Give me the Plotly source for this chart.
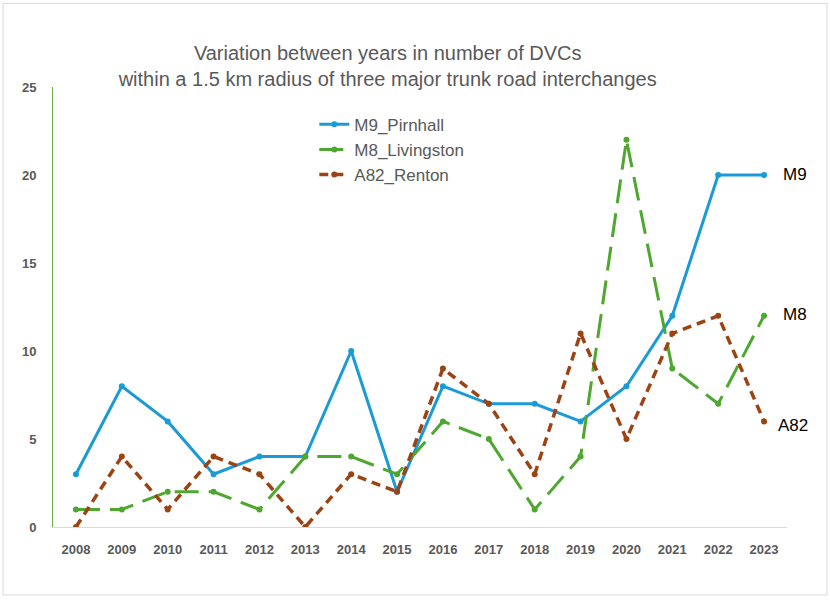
import plotly.graph_objects as go

years = [str(y) for y in range(2008, 2024)]
m9_pirnhall = [3, 8, 6, 3, 4, 4, 10, 2, 8, 7, 7, 6, 8, 12, 20, 20]
m8_livingston = [1, 1, 2, 2, 1, 4, 4, 3, 6, 5, 1, 4, 22, 9, 7, 12]
a82_renton = [0, 4, 1, 4, 3, 0, 3, 2, 9, 7, 3, 11, 5, 11, 12, 6]
end_labels = ["M9", "M8", "A82"]

fig = go.Figure()
fig.add_trace(go.Scatter(x=years, y=m9_pirnhall, name="M9_Pirnhall", mode="lines+markers",
                         line=dict(color="#1A9BD7", width=3), marker=dict(size=6, color="#1A9BD7")))
fig.add_trace(go.Scatter(x=years, y=m8_livingston, name="M8_Livingston", mode="lines+markers",
                         line=dict(color="#4EA72E", width=3, dash="24px,10px"), marker=dict(size=6, color="#4EA72E")))
fig.add_trace(go.Scatter(x=years, y=a82_renton, name="A82_Renton", mode="lines+markers",
                         line=dict(color="#9C4313", width=3.5, dash="9px,6px"), marker=dict(size=6, color="#9C4313")))

last_idx = len(years) - 1
for lab, series, dx, dy in zip(end_labels, [m9_pirnhall, m8_livingston, a82_renton], [17, 17, 12], [1, 1, -4]):
    fig.add_annotation(x=last_idx, y=series[-1], text=lab, showarrow=False, xanchor="left",
                       xshift=dx, yshift=dy, font=dict(size=17, color="#000000", family="Liberation Sans"))

fig.add_shape(type="rect", xref="paper", yref="paper", x0=-0.068, x1=1.0545, y0=-0.1545, y1=1.19,
              line=dict(color="#D9D9D9", width=1), layer="below")

fig.update_layout(
    width=830, height=600,
    margin=dict(l=53, r=43, t=87, b=73),
    paper_bgcolor="white", plot_bgcolor="white",
    font=dict(family="Liberation Sans", color="#595959"),
    title=dict(text="Variation between years in number of DVCs<br>within a 1.5 km radius of three major trunk road interchanges",
               x=0.456, xref="paper", xanchor="center", y=0.9, yanchor="middle",
               font=dict(size=20, color="#595959", family="Liberation Sans")),
    legend=dict(x=0.356, y=0.955, xanchor="left", yanchor="top", bgcolor="rgba(0,0,0,0)",
                font=dict(size=17, color="#595959"), itemwidth=30),
    showlegend=True,
    xaxis=dict(type="category", range=[-0.5, last_idx + 0.5], showgrid=False, showline=True,
               linecolor="#D9D9D9", linewidth=1,
               ticks="", tickfont=dict(size=13, color="#595959", family="Liberation Sans", weight="bold"),
               ticklabelstandoff=10, zeroline=False),
    yaxis=dict(range=[0, 25], tickvals=[0, 5, 10, 15, 20, 25], showgrid=False, showline=True,
               linecolor="#70AD47", linewidth=1, ticks="", zeroline=False,
               tickfont=dict(size=13, color="#595959", family="Liberation Sans", weight="bold"),
               ticklabelstandoff=13),
)

fig.write_html("out.html")
